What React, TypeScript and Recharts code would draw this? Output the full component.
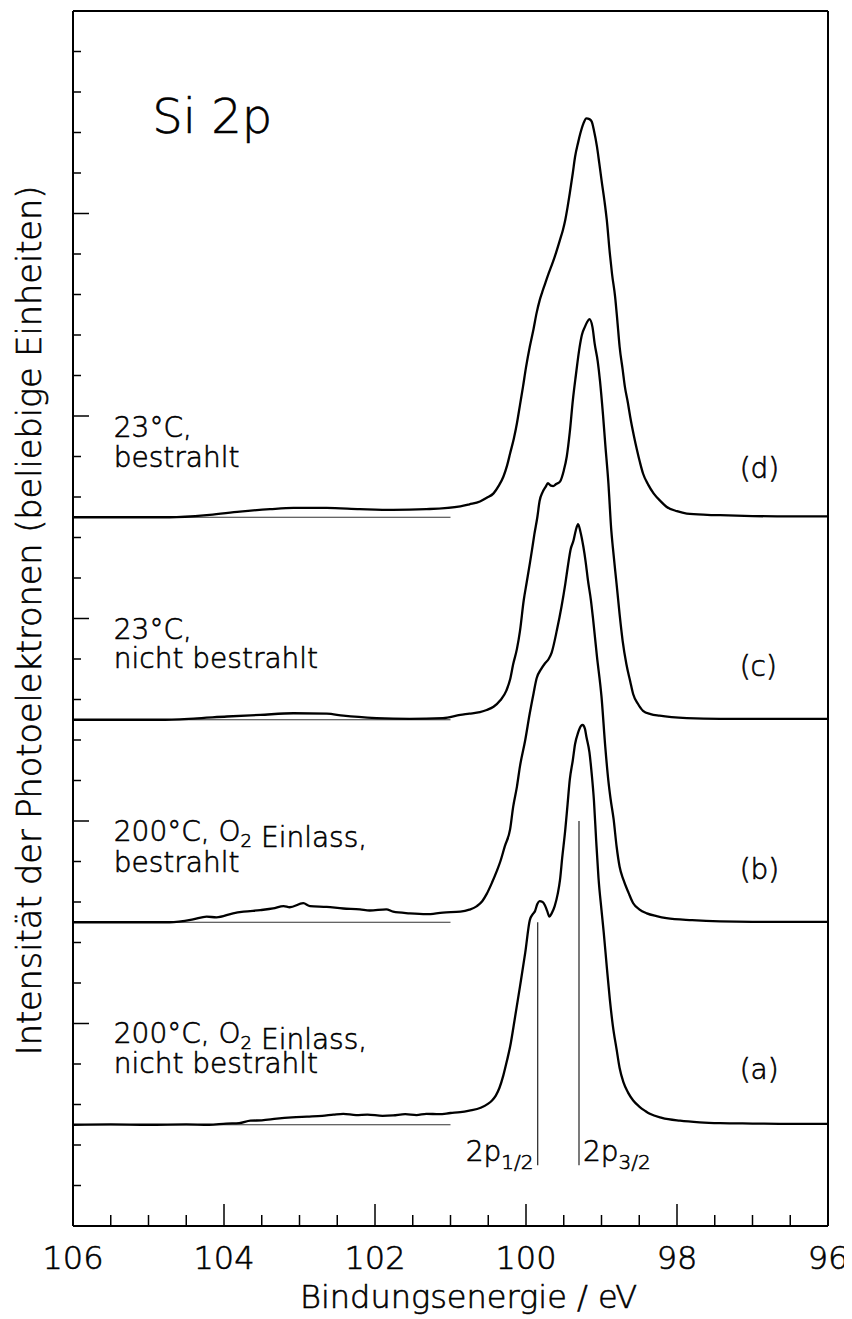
import { LineChart, Line, XAxis, YAxis, ReferenceLine, ReferenceDot } from 'recharts';

const FONT = '"DejaVu Sans", "Liberation Sans", sans-serif';
const INK = '#000';

// Binding energy ticks (eV), labels every 2 eV
const energyTicks = [
  106, 105.5, 105, 104.5, 104, 103.5, 103, 102.5, 102, 101.5, 101,
  100.5, 100, 99.5, 99, 98.5, 98, 97.5, 97, 96.5, 96,
];
const energyLabels = [106, 104, 102, 100, 98, 96];
// Intensity axis ticks (arbitrary units), long tick every 5
const intensityTicks = [
  0, 1, 2, 3, 4, 5, 6, 7, 8, 9, 10, 11, 12, 13, 14, 15,
  16, 17, 18, 19, 20, 21, 22, 23, 24, 25, 26, 27, 28, 29, 30,
];

// vertical offset of each spectrum
const offsets = { a: 2.5, b: 7.5, c: 12.5, d: 17.5 };

// Si 2p spectra: [binding energy eV, intensity above own baseline]
// (a) 200°C, O2 Einlass, nicht bestrahlt
const spectrumA: [number, number][] = [
  [106.0, 0.0], [105.5, 0.01], [105.0, 0.0], [104.5, 0.01], [104.2, 0.0], [103.97, 0.03],
  [103.8, 0.04], [103.65, 0.1], [103.5, 0.11], [103.3, 0.15], [103.1, 0.18], [102.9, 0.2],
  [102.7, 0.22], [102.55, 0.25], [102.42, 0.27], [102.25, 0.24], [102.1, 0.25], [101.9, 0.22],
  [101.76, 0.23], [101.6, 0.26], [101.45, 0.24], [101.32, 0.27], [101.15, 0.26], [101.0, 0.29],
  [100.87, 0.31], [100.75, 0.35], [100.6, 0.42], [100.5, 0.52], [100.45, 0.6], [100.4, 0.72],
  [100.35, 0.92], [100.3, 1.22], [100.25, 1.6], [100.21, 1.93], [100.15, 2.6], [100.08, 3.41],
  [100.01, 4.25], [99.95, 5.05], [99.91, 5.2], [99.88, 5.28], [99.85, 5.45], [99.82, 5.52],
  [99.78, 5.5], [99.75, 5.42], [99.72, 5.28], [99.69, 5.14], [99.66, 5.22], [99.62, 5.4],
  [99.58, 5.7], [99.55, 6.04], [99.52, 6.6], [99.48, 7.28], [99.45, 7.9], [99.42, 8.52],
  [99.38, 9.0], [99.35, 9.4], [99.31, 9.68], [99.27, 9.85], [99.25, 9.87], [99.22, 9.78],
  [99.2, 9.58], [99.16, 9.2], [99.13, 8.67], [99.1, 8.0], [99.07, 7.0], [99.04, 6.1],
  [99.0, 5.3], [98.97, 4.74], [98.93, 3.9], [98.89, 3.1], [98.85, 2.45], [98.8, 1.86],
  [98.76, 1.4], [98.71, 1.05], [98.65, 0.8], [98.58, 0.6], [98.5, 0.45], [98.42, 0.34],
  [98.36, 0.27], [98.2, 0.17], [97.96, 0.1], [97.7, 0.06], [97.43, 0.04], [97.0, 0.03],
  [96.5, 0.02], [96.0, 0.02],
];

// (b) 200°C, O2 Einlass, bestrahlt
const spectrumB: [number, number][] = [
  [106.0, 0.0], [105.3, 0.0], [104.72, 0.0], [104.41, 0.07], [104.23, 0.14], [104.1, 0.12],
  [103.88, 0.22], [103.74, 0.26], [103.52, 0.3], [103.35, 0.34], [103.21, 0.4], [103.13, 0.37],
  [102.95, 0.47], [102.86, 0.4], [102.64, 0.38], [102.42, 0.34], [102.2, 0.32], [102.07, 0.29],
  [101.85, 0.32], [101.76, 0.26], [101.54, 0.22], [101.32, 0.2], [101.1, 0.24], [100.87, 0.26],
  [100.75, 0.31], [100.65, 0.4], [100.58, 0.52], [100.52, 0.7], [100.45, 0.98], [100.39, 1.25],
  [100.34, 1.5], [100.28, 1.88], [100.21, 2.3], [100.17, 2.85], [100.12, 3.35], [100.08, 3.85],
  [100.01, 4.5], [99.95, 5.16], [99.9, 5.65], [99.86, 6.02], [99.8, 6.25], [99.75, 6.39],
  [99.7, 6.5], [99.66, 6.66], [99.59, 7.22], [99.53, 7.79], [99.48, 8.35], [99.44, 8.86],
  [99.41, 9.2], [99.37, 9.43], [99.34, 9.68], [99.31, 9.83], [99.28, 9.65], [99.24, 9.27],
  [99.21, 8.9], [99.18, 8.45], [99.14, 7.95], [99.11, 7.46], [99.06, 6.56], [99.0, 5.57],
  [98.95, 4.33], [98.91, 3.51], [98.88, 3.05], [98.84, 2.55], [98.8, 1.87], [98.76, 1.37],
  [98.71, 1.05], [98.64, 0.72], [98.58, 0.47], [98.5, 0.32], [98.4, 0.22], [98.27, 0.15],
  [98.14, 0.1], [97.8, 0.05], [97.43, 0.02], [97.0, 0.01], [96.5, 0.01], [96.0, 0.01],
];

// (c) 23°C, nicht bestrahlt
const spectrumC: [number, number][] = [
  [106.0, 0.0], [105.4, 0.0], [104.85, 0.0], [104.4, 0.03], [103.96, 0.08], [103.52, 0.12],
  [103.08, 0.16], [102.64, 0.15], [102.42, 0.1], [101.98, 0.04], [101.54, 0.02], [101.1, 0.04],
  [100.87, 0.12], [100.75, 0.15], [100.61, 0.19], [100.52, 0.24], [100.43, 0.32], [100.34, 0.48],
  [100.26, 0.72], [100.21, 1.0], [100.17, 1.37], [100.12, 1.75], [100.08, 2.19], [100.03, 2.95],
  [99.99, 3.4], [99.95, 3.85], [99.92, 4.2], [99.89, 4.57], [99.85, 5.0], [99.82, 5.4],
  [99.78, 5.62], [99.74, 5.75], [99.71, 5.84], [99.67, 5.78], [99.64, 5.77], [99.6, 5.82],
  [99.55, 5.88], [99.5, 6.15], [99.46, 6.5], [99.42, 7.1], [99.38, 7.88], [99.34, 8.5],
  [99.29, 9.2], [99.26, 9.5], [99.22, 9.7], [99.19, 9.82], [99.16, 9.89], [99.12, 9.7],
  [99.09, 9.28], [99.05, 8.85], [99.02, 8.37], [98.98, 7.53], [98.95, 6.8], [98.91, 5.88],
  [98.87, 4.67], [98.85, 4.26], [98.8, 3.35], [98.76, 2.6], [98.72, 1.95], [98.67, 1.37],
  [98.62, 0.95], [98.58, 0.63], [98.52, 0.4], [98.45, 0.22], [98.35, 0.14], [98.23, 0.1],
  [97.87, 0.04], [97.43, 0.02], [97.0, 0.02], [96.5, 0.02], [96.0, 0.02],
];

// (d) 23°C, bestrahlt
const spectrumD: [number, number][] = [
  [106.0, 0.0], [105.4, 0.0], [104.72, 0.0], [104.19, 0.06], [103.79, 0.14], [103.39, 0.2],
  [103.08, 0.23], [102.64, 0.23], [102.2, 0.2], [101.76, 0.18], [101.32, 0.2], [100.87, 0.27],
  [100.75, 0.32], [100.61, 0.39], [100.52, 0.48], [100.43, 0.59], [100.36, 0.78], [100.3, 1.0],
  [100.25, 1.28], [100.21, 1.58], [100.16, 1.95], [100.12, 2.32], [100.08, 2.77], [100.04, 3.22],
  [100.0, 3.7], [99.95, 4.21], [99.9, 4.65], [99.86, 5.04], [99.82, 5.35], [99.79, 5.53],
  [99.75, 5.75], [99.7, 6.02], [99.66, 6.22], [99.62, 6.43], [99.55, 6.85], [99.51, 7.1],
  [99.48, 7.34], [99.45, 7.65], [99.42, 8.0], [99.38, 8.5], [99.35, 8.9], [99.31, 9.25],
  [99.28, 9.48], [99.24, 9.72], [99.2, 9.85], [99.16, 9.83], [99.13, 9.77], [99.1, 9.55],
  [99.06, 9.15], [99.03, 8.75], [99.0, 8.33], [98.96, 7.8], [98.93, 7.34], [98.89, 6.52],
  [98.86, 6.0], [98.82, 5.45], [98.79, 4.85], [98.76, 4.21], [98.72, 3.65], [98.69, 3.22],
  [98.65, 2.82], [98.62, 2.48], [98.57, 2.0], [98.53, 1.66], [98.49, 1.35], [98.45, 1.08],
  [98.38, 0.8], [98.31, 0.59], [98.22, 0.4], [98.14, 0.26], [98.0, 0.15], [97.87, 0.09],
  [97.6, 0.06], [97.43, 0.05], [97.0, 0.03], [96.5, 0.02], [96.0, 0.02],
];

// 2p doublet markers: energy, top of line
const doubletLines = [
  { energy: 99.845, top: 7.5 },
  { energy: 99.298, top: 10.0 },
];
const doubletBottom = 1.5;
const baselineEnd = 101;

const toRows = (spec: [number, number][], offset: number) =>
  spec.map(([x, v]) => ({ x, y: v + offset }));

const rowsA = toRows(spectrumA, offsets.a);
const rowsB = toRows(spectrumB, offsets.b);
const rowsC = toRows(spectrumC, offsets.c);
const rowsD = toRows(spectrumD, offsets.d);

// thin font, darkened with a hairline stroke
const textStyle = { fontFamily: FONT, fontWeight: 200, fill: INK, stroke: INK, strokeWidth: 0.6 };

const BottomTick = ({ x, y, payload }: any) => {
  const major = energyLabels.includes(payload.value);
  return (
    <g>
      <line x1={x} x2={x} y1={y} y2={y - (major ? 22 : 11)} stroke={INK} strokeWidth={1.5} />
      {major && (
        <text x={x} y={y + 43} textAnchor="middle" fontSize={32} {...textStyle}>
          {payload.value}
        </text>
      )}
    </g>
  );
};

const TopTick = ({ x, y, payload }: any) => {
  const major = energyLabels.includes(payload.value);
  return <line x1={x} x2={x} y1={y} y2={y + (major ? 22 : 11)} stroke={INK} strokeWidth={1.5} />;
};

const LeftTick = ({ x, y, payload }: any) => {
  const major = payload.value % 5 === 0;
  return <line x1={x} x2={x + (major ? 16 : 8)} y1={y} y2={y} stroke={INK} strokeWidth={1.5} />;
};

const RightTick = ({ x, y, payload }: any) => {
  const major = payload.value % 5 === 0;
  return <line x1={x} x2={x - (major ? 16 : 8)} y1={y} y2={y} stroke={INK} strokeWidth={1.5} />;
};

// text placed at a data position
const note = (content: any, anchor = 'start', size = 28) => (p: any) => (
  <text x={p.cx} y={p.cy} textAnchor={anchor} fontSize={size} {...textStyle}>
    {content}
  </text>
);

const sub = (s: string, size = 18, shift = 6) => (
  <>
    <tspan fontSize={size} dy={shift}>{s}</tspan>
    <tspan dy={-shift}>{''}</tspan>
  </>
);

const xTitle = ({ viewBox }: any) => (
  <text
    x={viewBox.x + viewBox.width / 2 + 18}
    y={viewBox.y + 82}
    textAnchor="middle"
    fontSize={32}
    {...textStyle}
  >
    Bindungsenergie / eV
  </text>
);

const yTitle = ({ viewBox }: any) => {
  const cx = 33;
  const cy = viewBox.y + viewBox.height / 2 + 2;
  return (
    <text
      x={cx}
      y={cy}
      transform={`rotate(-90, ${cx}, ${cy})`}
      textAnchor="middle"
      fontSize={33.5}
      {...textStyle}
    >
      Intensität der Photoelektronen (beliebige Einheiten)
    </text>
  );
};

const curves = [rowsA, rowsB, rowsC, rowsD];

export default function App() {
  const axisLine = { stroke: INK, strokeWidth: 2 };
  return (
    <div style={{ width: 844, height: 1311, background: '#fff' }}>
      <LineChart width={844} height={1311} margin={{ top: 0, right: 0, bottom: 0, left: 0 }}>
        <XAxis
          dataKey="x"
          type="number"
          domain={[96, 106]}
          reversed
          ticks={energyTicks}
          interval={0}
          tick={<BottomTick />}
          tickLine={false}
          tickSize={0}
          tickMargin={0}
          axisLine={axisLine}
          height={93}
          label={xTitle}
        />
        <XAxis
          xAxisId="top"
          orientation="top"
          dataKey="x"
          type="number"
          domain={[96, 106]}
          reversed
          ticks={energyTicks}
          interval={0}
          tick={<TopTick />}
          tickLine={false}
          tickSize={0}
          tickMargin={0}
          axisLine={axisLine}
          height={3}
        />
        <YAxis
          type="number"
          domain={[0, 30]}
          ticks={intensityTicks}
          interval={0}
          tick={<LeftTick />}
          tickLine={false}
          tickSize={0}
          tickMargin={0}
          axisLine={axisLine}
          width={65}
          label={yTitle}
        />
        <YAxis
          yAxisId="right"
          orientation="right"
          type="number"
          domain={[0, 30]}
          ticks={intensityTicks}
          interval={0}
          tick={<RightTick />}
          tickLine={false}
          tickSize={0}
          tickMargin={0}
          axisLine={axisLine}
          width={24}
        />

        {Object.values(offsets).map((o) => (
          <ReferenceLine
            key={`base-${o}`}
            segment={[{ x: 106, y: o }, { x: baselineEnd, y: o }]}
            stroke="#333"
            strokeWidth={1}
          />
        ))}
        {doubletLines.map((d) => (
          <ReferenceLine
            key={`dbl-${d.energy}`}
            segment={[{ x: d.energy, y: doubletBottom }, { x: d.energy, y: d.top }]}
            stroke="#222"
            strokeWidth={1.2}
          />
        ))}

        {curves.map((rows, i) => (
          <Line
            key={`spec-${i}`}
            data={rows}
            dataKey="y"
            type="monotone"
            stroke={INK}
            strokeWidth={2.3}
            dot={false}
            isAnimationActive={false}
          />
        ))}

        <ReferenceDot x={104.95} y={26.98} r={0} shape={note('Si 2p', 'start', 48)} />

        <ReferenceDot x={105.46} y={19.49} r={0} shape={note('23°C,')} />
        <ReferenceDot x={105.46} y={18.75} r={0} shape={note('bestrahlt')} />
        <ReferenceDot x={105.46} y={14.49} r={0} shape={note('23°C,')} />
        <ReferenceDot x={105.46} y={13.77} r={0} shape={note('nicht bestrahlt')} />
        <ReferenceDot x={105.46} y={9.5} r={0} shape={note(<>200°C, O{sub('2')} Einlass,</>)} />
        <ReferenceDot x={105.46} y={8.75} r={0} shape={note('bestrahlt')} />
        <ReferenceDot x={105.46} y={4.53} r={0} shape={note(<>200°C, O{sub('2')} Einlass,</>)} />
        <ReferenceDot x={105.46} y={3.77} r={0} shape={note('nicht bestrahlt')} />

        <ReferenceDot x={97.17} y={18.47} r={0} shape={note('(d)')} />
        <ReferenceDot x={97.17} y={13.58} r={0} shape={note('(c)')} />
        <ReferenceDot x={97.17} y={8.57} r={0} shape={note('(b)')} />
        <ReferenceDot x={97.17} y={3.63} r={0} shape={note('(a)')} />

        <ReferenceDot x={99.9} y={1.6} r={0} shape={note(<>2p{sub('1/2', 20, 8)}</>, 'end')} />
        <ReferenceDot x={99.245} y={1.6} r={0} shape={note(<>2p{sub('3/2', 20, 8)}</>, 'start')} />
      </LineChart>
    </div>
  );
}
